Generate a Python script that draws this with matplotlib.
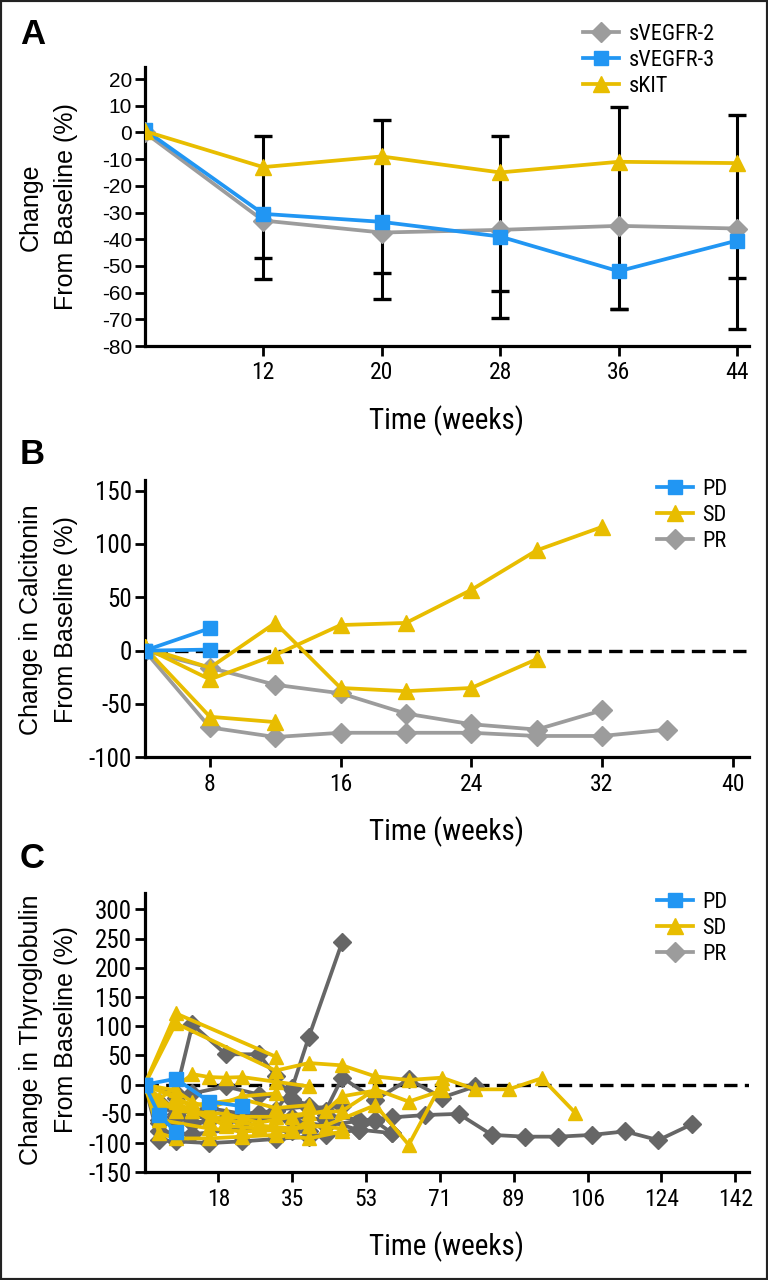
import matplotlib
matplotlib.use('Agg')
import matplotlib.pyplot as plt
from matplotlib.lines import Line2D
from matplotlib.patches import Rectangle
from matplotlib import font_manager as fm

plt.rcParams['font.family'] = ['Liberation Sans', 'DejaVu Sans']
plt.rcParams['axes.unicode_minus'] = False


def has_font(name):
    try:
        fm.findfont(fm.FontProperties(family=name), fallback_to_default=False)
        return True
    except Exception:
        return False


NARROW = next((f for f in ['Liberation Sans Narrow', 'Roboto Condensed',
                           'Open Sans Condensed', 'DejaVu Sans Condensed']
               if has_font(f)), 'Liberation Sans')

YELLOW = '#E8BD00'
BLUE = '#2196F3'
LGRAY = '#9C9C9C'
DGRAY = '#666666'

# ---------------- Panel A data ----------------
a_weeks = [4, 12, 20, 28, 36, 44]
a_vegfr2 = [0, -33, -37.5, -36.5, -35, -36]
a_vegfr3 = [1, -30.5, -33.5, -39, -52, -40.5]
a_kit = [0.5, -13, -9, -15, -11, -11.5]
a_err_weeks = [12, 20, 28, 36, 44]
a_kit_upper = [-1.5, 4.5, -1.5, 9.5, 6.5]
a_vegfr2_lower = [-47, -52.5, -59.5, -66, -54.5]
a_vegfr3_lower = [-55, -62.5, -69.5, -66, -73.5]
a_xticks = [12, 20, 28, 36, 44]
a_yticks = [-80, -70, -60, -50, -40, -30, -20, -10, 0, 10, 20]

# ---------------- Panel B data ----------------
b_pd_weeks = [[4, 8], [4, 8]]
b_pd_values = [[0, 21], [0, 1]]
b_sd_weeks = [[4, 8, 12, 16, 20, 24, 28],
              [4, 8, 12, 16, 20, 24, 28, 32],
              [4, 8, 12]]
b_sd_values = [[3, -16, 26, -35, -38, -35, -8],
               [3, -27, -4, 24, 26, 57, 94, 116],
               [3, -62, -67]]
b_pr_weeks = [[4, 8, 12, 16, 20, 24, 28, 32, 36],
              [4, 8, 12, 16, 20, 24, 28, 32]]
b_pr_values = [[0, -72, -81, -77, -77, -77, -80, -80, -74],
               [0, -16, -32, -40, -59, -69, -74, -56]]
b_xticks = [8, 16, 24, 32, 40]
b_yticks = [-100, -50, 0, 50, 100, 150]

# ---------------- Panel C data ----------------
c_pd_weeks = [[0, 7.5, 15.5, 23.5], [0, 3.5, 7.5]]
c_pd_values = [[0, 10, -29, -37], [0, -52, -81]]
c_sd_weeks = [
    [0, 7.5, 31.5],
    [0, 7.5, 31.5, 39.5, 47.5, 55.5, 63.5, 71.5, 79.5, 87.5, 95.5, 103.5],
    [0, 3.5, 11.5, 15.5, 19.5, 23.5, 31.5, 39.5],
    [0, 3.5, 7.5, 15.5, 23.5, 31.5, 39.5, 47.5],
    [0, 7.5, 15.5, 23.5, 31.5, 39.5, 47.5, 55.5, 63.5, 71.5],
    [0, 3.5, 11.5, 19.5, 27.5, 35.5, 43.5, 55.5, 63.5, 71.5],
    [0, 3.5, 7.5, 11.5, 19.5, 27.5, 35.5, 39.5],
    [0, 7.5, 11.5, 15.5, 23.5, 31.5],
    [0, 3.5, 15.5, 23.5, 31.5, 39.5, 47.5],
    [0, 7.5, 19.5, 27.5, 35.5, 43.5, 47.5, 55.5],
    [0, 11.5, 23.5, 31.5, 39.5],
]
c_sd_values = [
    [0, 122, 48],
    [0, 105, 24, 37, 33, 14, 8, 12, -8, -8, 11, -48],
    [0, -25, 18, 13, 12, 13, 5, -3],
    [0, -83, -92, -92, -89, -86, -92, -80],
    [0, -20, -60, -55, -55, -49, -45, -8, -29, -10],
    [0, -35, -45, -60, -70, -75, -70, -35, -103, 3],
    [0, -40, -30, -45, -70, -75, -80, -60],
    [0, -10, -30, -40, -20, -15],
    [0, -60, -75, -80, -78, -70, -75],
    [0, -45, -50, -65, -55, -45, -20, -10],
    [0, -35, -25, -40, -35],
]
c_pr_weeks = [
    [0, 7.5, 11.5, 19.5, 27.5, 35.5, 43.5, 51.5, 59.5, 67.5, 75.5, 83.5, 91.5, 99.5, 107.5, 115.5, 123.5, 131.5],
    [0, 3.5, 7.5, 15.5, 23.5, 31.5, 39.5, 43.5, 51.5, 59.5],
    [0, 3.5, 7.5, 15.5, 23.5, 31.5, 35.5, 39.5, 47.5],
    [0, 7.5, 11.5, 19.5, 27.5, 31.5, 35.5, 43.5, 47.5, 55.5, 63.5, 71.5, 79.5],
    [0, 3.5, 7.5, 11.5, 19.5, 27.5, 35.5, 39.5, 47.5],
    [0, 3.5, 11.5, 15.5, 23.5, 31.5, 39.5, 43.5, 51.5, 55.5, 59.5],
    [0, 7.5, 19.5, 27.5, 35.5, 43.5, 51.5, 55.5],
    [0, 3.5, 11.5, 23.5, 35.5, 39.5],
]
c_pr_values = [
    [0, -55, -65, -60, -55, -62, -70, -62, -56, -52, -50, -86, -89, -89, -86, -80, -95, -68],
    [0, -95, -97, -100, -97, -93, -89, -86, -77, -83],
    [0, -30, -50, -40, -50, -45, -5, 82, 244],
    [0, -14, 103, 52, 52, 15, -25, -45, 12, -26, 9, -22, -3],
    [0, -60, -23, -15, -3, -17, -26, -40, -37],
    [0, -66, -66, -63, -63, -43, -37, -52, -60, -63, -83],
    [0, -54, -57, -49, -55, -60, -78, -60],
    [0, -80, -85, -75, -80, -80],
]
c_xticks = [17.75, 35.5, 53.25, 71, 88.75, 106.5, 124.25, 142]
c_xticklabels = ['18', '35', '53', '71', '89', '106', '124', '142']
c_yticks = [-150, -100, -50, 0, 50, 100, 150, 200, 250, 300]

W, H = 768, 1280
fig = plt.figure(figsize=(W / 100, H / 100), dpi=100)
fig.add_artist(Rectangle((0, 0), 1, 1, transform=fig.transFigure, fill=False,
                         lw=3, edgecolor='#222222'))

LW = 2.7
TICKFS_X = 17
LABFS = 18


def fig_axes(left, top, right, bottom):
    return fig.add_axes([left / W, 1 - bottom / H, (right - left) / W, (bottom - top) / H])


def style(ax, yfam, ytfs):
    for s in ['top', 'right']:
        ax.spines[s].set_visible(False)
    for s in ['left', 'bottom']:
        ax.spines[s].set_linewidth(2.3)
    ax.tick_params(axis='both', length=7, width=2, direction='out')
    ax.tick_params(axis='x', pad=4)
    ax.tick_params(axis='y', pad=2)
    for t in ax.get_xticklabels():
        t.set_fontfamily(NARROW)
        t.set_fontsize(TICKFS_X)
    for t in ax.get_yticklabels():
        t.set_fontfamily(yfam)
        t.set_fontsize(ytfs)
    ax.set_xlabel('Time (weeks)', fontsize=21, family=NARROW, labelpad=15)


def ylab(lines, xs, yc):
    for t, x in zip(lines, xs):
        fig.text(x / W, 1 - yc / H, t, rotation=90, ha='center', va='center', fontsize=LABFS)


def leg(ax, handles, labels, x, y):
    ax.legend(handles, labels, loc='upper left', bbox_to_anchor=(x / W, 1 - y / H),
              bbox_transform=fig.transFigure, frameon=False,
              prop={'family': NARROW, 'size': 16},
              handlelength=1.6, handletextpad=0.45, labelspacing=0.22, borderpad=0,
              borderaxespad=0)


# ---------------- Panel A ----------------
axA = fig_axes(144.6, 67, 749, 346)
lowest = [min(a, b) for a, b in zip(a_vegfr2_lower, a_vegfr3_lower)]
axA.vlines(a_err_weeks, lowest, a_kit_upper, color='black', lw=2.2, zorder=1)
for arr in (a_kit_upper, a_vegfr2_lower, a_vegfr3_lower):
    axA.plot(a_err_weeks, arr, ls='none', marker='_', ms=13, mew=2.4, color='black', zorder=1)
hA2, = axA.plot(a_weeks, a_vegfr2, color=LGRAY, marker='D', ms=10, lw=LW, zorder=3)
hA3, = axA.plot(a_weeks, a_vegfr3, color=BLUE, marker='s', ms=10.5, lw=LW, zorder=4)
hAk, = axA.plot(a_weeks, a_kit, color=YELLOW, marker='^', ms=11, lw=LW, zorder=5)
axA.set_xlim(4, 44.8)
axA.set_ylim(-80, 24.5)
axA.set_xticks(a_xticks)
axA.set_yticks(a_yticks)
style(axA, 'Liberation Sans', 15)
ylab(['Change', 'From Baseline (%)'], [31, 66], 207)
leg(axA, [hA2, hA3, hAk], ['sVEGFR-2', 'sVEGFR-3', 'sKIT'], 583, 24)
fig.text(20 / W, 1 - 35 / H, 'A', fontsize=25, fontweight='bold', va='center', ha='left')

# ---------------- Panel B ----------------
axB = fig_axes(144.6, 480, 749, 757.3)
axB.axhline(0, xmin=0.015, color='black', lw=2.4, ls=(0, (4, 2.2)), zorder=1)
for wk, v in zip(b_pr_weeks, b_pr_values):
    hBpr, = axB.plot(wk, v, color=LGRAY, marker='D', ms=10, lw=LW, zorder=2)
for wk, v in zip(b_sd_weeks, b_sd_values):
    hBsd, = axB.plot(wk, v, color=YELLOW, marker='^', ms=11, lw=LW, zorder=3)
for wk, v in zip(b_pd_weeks, b_pd_values):
    hBpd, = axB.plot(wk, v, color=BLUE, marker='s', ms=10.5, lw=LW, zorder=4)
axB.set_xlim(4, 41)
axB.set_ylim(-100, 160)
axB.set_xticks(b_xticks)
axB.set_yticks(b_yticks)
style(axB, NARROW, 18)
ylab(['Change in Calcitonin', 'From Baseline (%)'], [31, 66], 620)
leg(axB, [hBpd, hBsd, hBpr], ['PD', 'SD', 'PR'], 657, 479)
fig.text(20 / W, 1 - 455 / H, 'B', fontsize=25, fontweight='bold', va='center', ha='left')

# ---------------- Panel C ----------------
axC = fig_axes(144.6, 893, 749, 1172.3)
axC.axhline(0, color='black', lw=2.4, ls=(0, (4, 2.2)), zorder=1)
for wk, v in zip(c_pr_weeks, c_pr_values):
    axC.plot(wk, v, color=DGRAY, marker='D', ms=9, lw=LW, zorder=2)
for wk, v in zip(c_sd_weeks, c_sd_values):
    axC.plot(wk, v, color=YELLOW, marker='^', ms=10, lw=LW, zorder=3)
for wk, v in zip(c_pd_weeks, c_pd_values):
    axC.plot(wk, v, color=BLUE, marker='s', ms=9.5, lw=LW, zorder=4)
hCpd = Line2D([], [], color=BLUE, marker='s', ms=10.5, lw=LW)
hCsd = Line2D([], [], color=YELLOW, marker='^', ms=11, lw=LW)
hCpr = Line2D([], [], color=LGRAY, marker='D', ms=10, lw=LW)
axC.set_xlim(0, 145.3)
axC.set_ylim(-150, 328)
axC.set_xticks(c_xticks)
axC.set_xticklabels(c_xticklabels)
axC.set_yticks(c_yticks)
style(axC, NARROW, 18)
ylab(['Change in Thyroglobulin', 'From Baseline (%)'], [31, 66], 1030)
leg(axC, [hCpd, hCsd, hCpr], ['PD', 'SD', 'PR'], 657, 892)
fig.text(20 / W, 1 - 858 / H, 'C', fontsize=25, fontweight='bold', va='center', ha='left')

fig.savefig('out.png', dpi=100)
